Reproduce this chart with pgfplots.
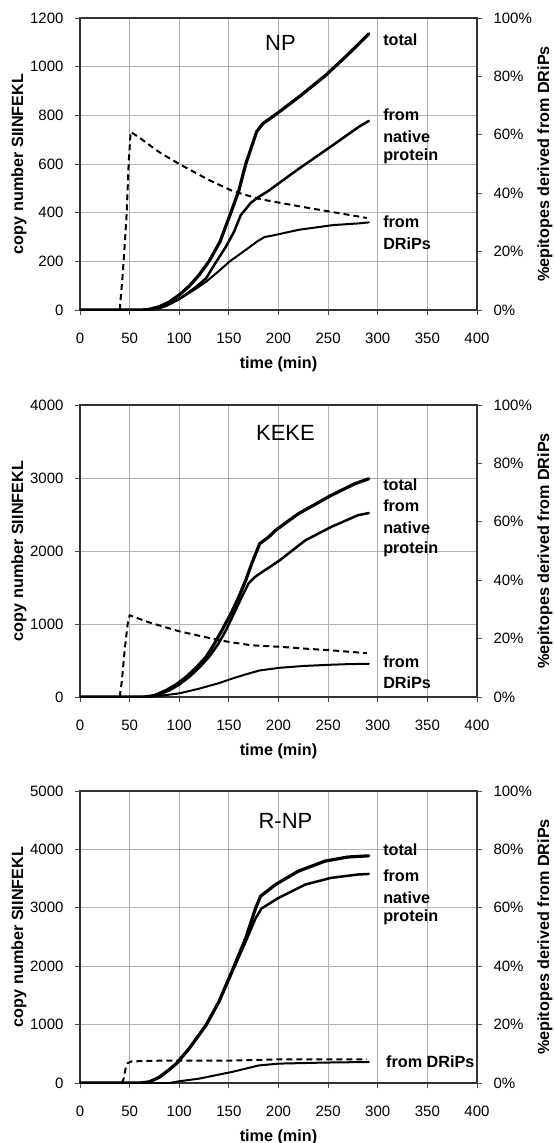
\documentclass[border=0pt]{standalone}
\usepackage{pgfplots}
\pgfplotsset{compat=1.18}
\usepackage{fontspec}
\setmainfont{Liberation Sans}

\newcommand{\tickfont}{\fontsize{15}{18}\selectfont}
\newcommand{\lblfont}{\bfseries\fontsize{16.2}{19}\selectfont}
\newcommand{\ttlfont}{\fontsize{22}{25}\selectfont}

\pgfplotsset{
  panel/.style={scale only axis, width=397pt, height=292pt, xmin=0, xmax=400,
    tick label style={font=\tickfont},
    /pgf/number format/assume math mode=true,
    /pgf/number format/1000 sep={},
    tick align=outside, major tick length=5pt,
    every tick/.style={black!70, line width=0.8pt},
    axis line style={black!80, line width=1.3pt},
    no markers, every axis plot/.append style={black, line join=round, line cap=round}},
  copies/.style={panel, xtick={0,50,...,400}, xtick pos=bottom, ytick pos=left,
    grid=major, grid style={black!30, line width=0.9pt},
    xlabel={time (min)}, ylabel={copy number SIINFEKL},
    xticklabel style={anchor=center, yshift=-23pt},
    yticklabel style={anchor=east, xshift=-8pt},
    xlabel style={font=\lblfont, at={([yshift=-54pt]axis description cs:0.5,0)}, anchor=center},
    ylabel style={font=\lblfont, at={([xshift=-61pt]axis description cs:0,0.5)}, anchor=center}},
  share/.style={panel, axis x line=none, axis y line*=right, ymin=0, ymax=100,
    ytick={0,20,...,100}, yticklabel={\pgfmathprintnumber{\tick}\%},
    yticklabel style={anchor=west, xshift=8pt},
    ylabel={\%epitopes derived from DRiPs},
    ylabel style={font=\lblfont, at={([xshift=68pt]axis description cs:1,0.5)}, anchor=center}},
  total/.style={line width=3.2pt},
  native/.style={line width=2.5pt},
  drips/.style={line width=2pt},
  ratio/.style={line width=2pt, line cap=butt, dash pattern=on 6pt off 4pt},
}

\begin{document}
\begin{tikzpicture}
\useasboundingbox (-80pt,-833pt) rectangle (474pt,310pt);

% ---- NP ----
\begin{axis}[copies, at={(0pt,0pt)}, ymin=0, ymax=1200, ytick={0,200,...,1200}]
\addplot[total] coordinates {(0,0) (62,0) (70,3) (80,14) (90,33) (100,62) (110,98) (120,144) (130,200) (141,280) (152,400) (160,490) (167,600) (178,733) (184,765) (201,815) (221,877) (248,966) (270,1050) (291,1135)};
\addplot[native] coordinates {(0,0) (70,0) (80,8) (87,18) (100,45) (107,65) (117,95) (127,130) (136,190) (147,260) (155,320) (162,390) (172,440) (179,462) (190,490) (198,514) (221,582) (255,678) (281,753) (291,777)};
\addplot[drips] coordinates {(0,0) (70,0) (80,8) (87,18) (100,45) (107,62) (117,88) (127,116) (137,150) (151,200) (167,247) (179,283) (186,300) (194,306) (221,330) (255,349) (281,356) (291,360)};
\node[font=\ttlfont] at (axis cs:202,1098) {NP};
\node[anchor=west, font=\lblfont] at (axis cs:302,1110) {total};
\node[anchor=west, font=\lblfont] at (axis cs:302,801) {from};
\node[anchor=west, font=\lblfont] at (axis cs:302,712) {native};
\node[anchor=west, font=\lblfont] at (axis cs:302,630) {protein};
\node[anchor=west, font=\lblfont] at (axis cs:302,362) {from};
\node[anchor=west, font=\lblfont] at (axis cs:302,274) {DRiPs};
\end{axis}
\begin{axis}[share, at={(0pt,0pt)}]
\addplot[ratio] coordinates {(40,0) (43,12) (45,22) (47,33) (49,50) (51,61) (60,59) (80,54) (100,50) (130,44.5) (154,40.7) (181,38) (221,35.5) (250,33.8) (281,32) (289,31.5)};
\end{axis}

% ---- KEKE ----
\begin{axis}[copies, at={(0pt,-387pt)}, ymin=0, ymax=4000, ytick={0,1000,...,4000}]
\addplot[total] coordinates {(0,0) (65,0) (75,20) (87,91) (97,170) (107,274) (117,400) (127,548) (135,720) (143,913) (152,1140) (160,1370) (167,1600) (173,1826) (181,2100) (190,2190) (197,2283) (220,2511) (253,2762) (277,2922) (291,2990)};
\addplot[native] coordinates {(0,0) (68,0) (78,25) (90,91) (100,170) (110,274) (120,400) (130,548) (139,720) (147,913) (155,1140) (163,1370) (170,1560) (176,1640) (181,1690) (190,1770) (201,1870) (227,2146) (253,2329) (280,2490) (291,2520)};
\addplot[drips] coordinates {(0,0) (60,0) (80,15) (100,50) (120,114) (140,190) (153,251) (167,310) (181,364) (201,400) (225,425) (251,441) (270,450) (291,455)};
\node[font=\ttlfont] at (axis cs:207,3614) {KEKE};
\node[anchor=west, font=\lblfont] at (axis cs:302,2909) {total};
\node[anchor=west, font=\lblfont] at (axis cs:302,2614) {from};
\node[anchor=west, font=\lblfont] at (axis cs:302,2318) {native};
\node[anchor=west, font=\lblfont] at (axis cs:302,2030) {protein};
\node[anchor=west, font=\lblfont] at (axis cs:302,480) {from};
\node[anchor=west, font=\lblfont] at (axis cs:302,195) {DRiPs};
\end{axis}
\begin{axis}[share, at={(0pt,-387pt)}]
\addplot[ratio] coordinates {(40,0) (42,5) (45,16) (48,25) (50,28) (70,25.5) (100,22.5) (133,20) (151,18.8) (173,17.7) (201,17.2) (230,16.5) (260,15.8) (289,15)};
\end{axis}

% ---- R-NP ----
\begin{axis}[copies, at={(0pt,-773pt)}, ymin=0, ymax=5000, ytick={0,1000,...,5000}]
\addplot[total] coordinates {(0,0) (60,0) (70,20) (80,100) (90,230) (97,330) (110,590) (127,991) (140,1393) (153,1908) (167,2481) (177,2997) (182,3200) (197,3398) (220,3628) (247,3800) (270,3870) (291,3890)};
\addplot[native] coordinates {(0,0) (62,0) (70,20) (80,100) (90,230) (97,330) (110,590) (127,991) (140,1393) (153,1890) (167,2424) (177,2825) (183,2990) (200,3169) (227,3398) (253,3513) (280,3570) (291,3580)};
\addplot[drips] coordinates {(0,0) (90,0) (100,30) (120,75) (153,189) (180,300) (200,332) (247,350) (291,360)};
\node[font=\ttlfont] at (axis cs:207,4496) {R-NP};
\node[anchor=west, font=\lblfont] at (axis cs:302,4000) {total};
\node[anchor=west, font=\lblfont] at (axis cs:302,3545) {from};
\node[anchor=west, font=\lblfont] at (axis cs:302,3175) {native};
\node[anchor=west, font=\lblfont] at (axis cs:302,2834) {protein};
\node[anchor=west, font=\lblfont] at (axis cs:305,360) {from DRiPs};
\end{axis}
\begin{axis}[share, at={(0pt,-773pt)}]
\addplot[ratio] coordinates {(42,0) (44,1.5) (46,5) (48,6.8) (52,7.4) (87,7.7) (153,7.7) (200,8.1) (289,8.1)};
\end{axis}
\end{tikzpicture}
\end{document}
